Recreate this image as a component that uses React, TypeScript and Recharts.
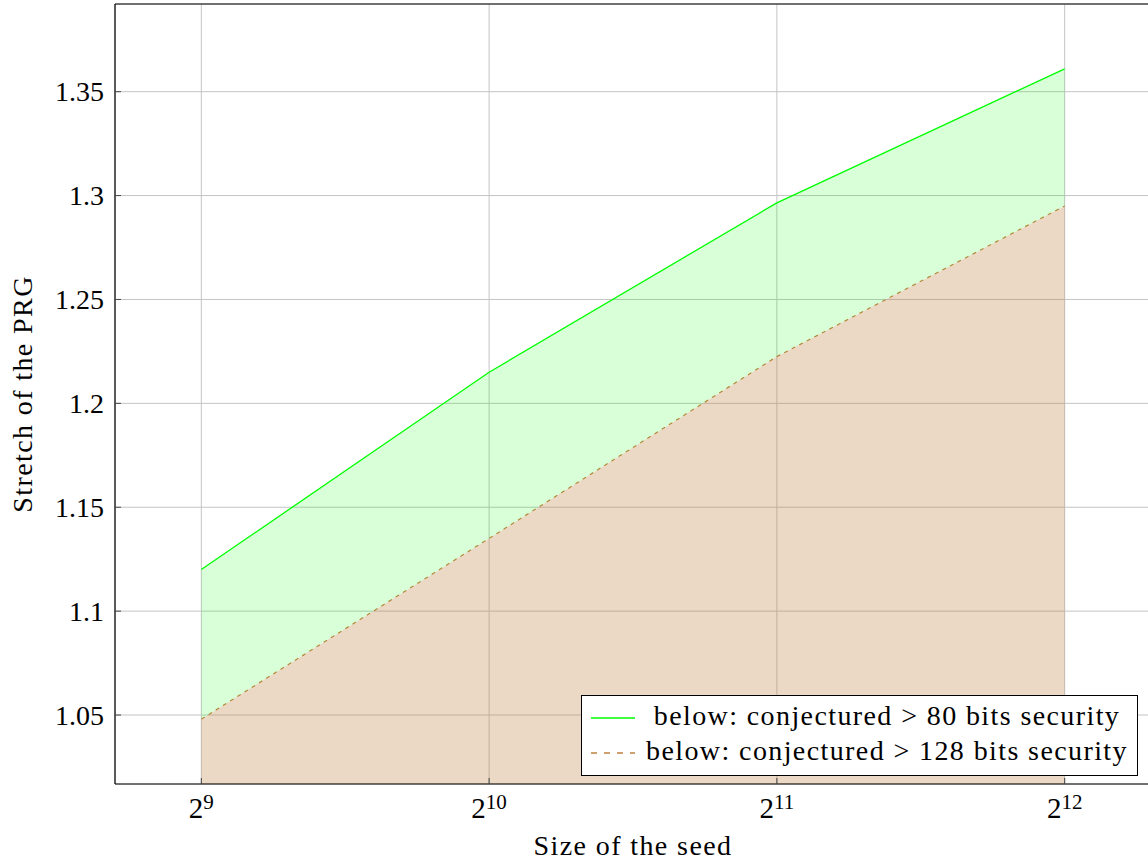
import {
  ComposedChart,
  Area,
  Line,
  XAxis,
  YAxis,
  CartesianGrid,
  Legend,
  Label,
} from "recharts";

// seed size is 2^exp
const SEED_EXPONENTS = [9, 10, 11, 12];
const STRETCH_80_BITS = [1.12, 1.215, 1.2965, 1.361];
const STRETCH_128_BITS = [1.048, 1.135, 1.2225, 1.295];
const Y_TICKS = [1.05, 1.1, 1.15, 1.2, 1.25, 1.3, 1.35];
const SERIES_NAMES = [
  "below: conjectured > 80 bits security",
  "below: conjectured > 128 bits security",
];
const X_LABEL = "Size of the seed";
const Y_LABEL = "Stretch of the PRG";

const X_DOMAIN: [number, number] = [8.7, 12.3];
const Y_DOMAIN: [number, number] = [1.0168, 1.3922];

const GREEN = "#00ff00";
const BROWN = "#bf8040";
const GRID = "#c4c4c4";
const FONT = "'Liberation Serif', 'Times New Roman', serif";

const data = SEED_EXPONENTS.map((exp, i) => ({
  exp,
  s80: STRETCH_80_BITS[i],
  s128: STRETCH_128_BITS[i],
  band: [STRETCH_128_BITS[i], STRETCH_80_BITS[i]],
}));

function PowerTick({ x, y, payload }: any) {
  return (
    <text x={x} y={y + 40} textAnchor="middle" fontFamily={FONT} fontSize={29} fill="#000">
      <tspan>2</tspan>
      <tspan dy={-9} fontSize={21}>
        {payload.value}
      </tspan>
    </text>
  );
}

function StretchTick({ x, y, payload }: any) {
  return (
    <text x={x} y={y} dy={9.5} textAnchor="end" fontFamily={FONT} fontSize={28} fill="#000">
      {payload.value}
    </text>
  );
}

function LegendBox() {
  const dashes = ["none", "6 7"];
  const colors = [GREEN, BROWN];
  return (
    <div
      style={{
        width: 555,
        height: 79,
        border: "1px solid #000",
        background: "#fff",
        fontFamily: FONT,
        fontSize: 28,
        letterSpacing: 1.4,
        color: "#000",
      }}
    >
      {SERIES_NAMES.map((name, i) => (
        <div
          key={name}
          style={{ display: "flex", height: 35, marginTop: i === 0 ? 2 : 0 }}
        >
          <svg width={60} height={35} style={{ flex: "none" }}>
            <line
              x1={9}
              x2={53}
              y1={20}
              y2={20}
              stroke={colors[i]}
              strokeWidth={1.3}
              strokeDasharray={dashes[i]}
            />
          </svg>
          <span style={{ width: 490, textAlign: "center", lineHeight: "35px", whiteSpace: "nowrap" }}>
            {name}
          </span>
        </div>
      ))}
    </div>
  );
}

export default function App() {
  return (
    <div
      style={{
        position: "absolute",
        left: 0,
        top: 0,
        width: 1148,
        height: 861,
        overflow: "hidden",
        background: "#fff",
      }}
    >
      <ComposedChart
        width={1160}
        height={861}
        data={data}
        margin={{ top: 3, right: 8, bottom: 0, left: 0 }}
      >
        <CartesianGrid stroke={GRID} strokeWidth={1} />
        <XAxis
          dataKey="exp"
          type="number"
          domain={X_DOMAIN}
          ticks={SEED_EXPONENTS}
          allowDataOverflow
          height={77}
          tickSize={-6}
          tickMargin={0}
          tickLine={{ stroke: "#444" }}
          axisLine={{ stroke: "#000", strokeWidth: 1.2 }}
          tick={<PowerTick />}
        >
          <Label
            content={({ viewBox }: any) => (
              <text
                x={viewBox.x + viewBox.width / 2}
                y={855}
                textAnchor="middle"
                fontFamily={FONT}
                fontSize={28}
                letterSpacing={1.4}
                fill="#000"
              >
                {X_LABEL}
              </text>
            )}
          />
        </XAxis>
        <XAxis
          xAxisId="top"
          orientation="top"
          dataKey="exp"
          type="number"
          domain={X_DOMAIN}
          ticks={SEED_EXPONENTS}
          allowDataOverflow
          height={1}
          tickSize={-6}
          tick={false}
          tickLine={{ stroke: "#444" }}
          axisLine={{ stroke: "#000", strokeWidth: 1.2 }}
        />
        <YAxis
          type="number"
          domain={Y_DOMAIN}
          ticks={Y_TICKS}
          allowDataOverflow
          width={115}
          tickSize={-6}
          tickMargin={17}
          tickLine={{ stroke: "#444" }}
          axisLine={{ stroke: "#000", strokeWidth: 1.2 }}
          tick={<StretchTick />}
        >
          <Label
            content={({ viewBox }: any) => {
              const cy = viewBox.y + viewBox.height / 2;
              return (
                <text
                  x={32}
                  y={cy}
                  transform={`rotate(-90, 32, ${cy})`}
                  textAnchor="middle"
                  fontFamily={FONT}
                  fontSize={28}
                  letterSpacing={1.4}
                  fill="#000"
                >
                  {Y_LABEL}
                </text>
              );
            }}
          />
        </YAxis>
        <YAxis
          yAxisId="right"
          orientation="right"
          type="number"
          domain={Y_DOMAIN}
          ticks={Y_TICKS}
          allowDataOverflow
          width={1}
          tickSize={-6}
          tick={false}
          tickLine={{ stroke: "#444" }}
          axisLine={{ stroke: "#000", strokeWidth: 1.2 }}
        />
        <Area
          dataKey="s128"
          type="linear"
          baseValue={Y_DOMAIN[0]}
          stroke={BROWN}
          strokeWidth={1.2}
          strokeDasharray="4 4.5"
          fill={BROWN}
          fillOpacity={0.3}
          dot={false}
          activeDot={false}
          isAnimationActive={false}
        />
        <Area
          dataKey="band"
          type="linear"
          stroke="none"
          fill={GREEN}
          fillOpacity={0.15}
          dot={false}
          activeDot={false}
          isAnimationActive={false}
        />
        <Line
          dataKey="s80"
          type="linear"
          stroke={GREEN}
          strokeWidth={1.3}
          dot={false}
          activeDot={false}
          isAnimationActive={false}
        />
        <Legend
          layout="horizontal"
          verticalAlign="middle"
          align="center"
          content={() => <LegendBox />}
          wrapperStyle={{ left: 581, top: 695, width: 557, height: 81 }}
        />
      </ComposedChart>
    </div>
  );
}
